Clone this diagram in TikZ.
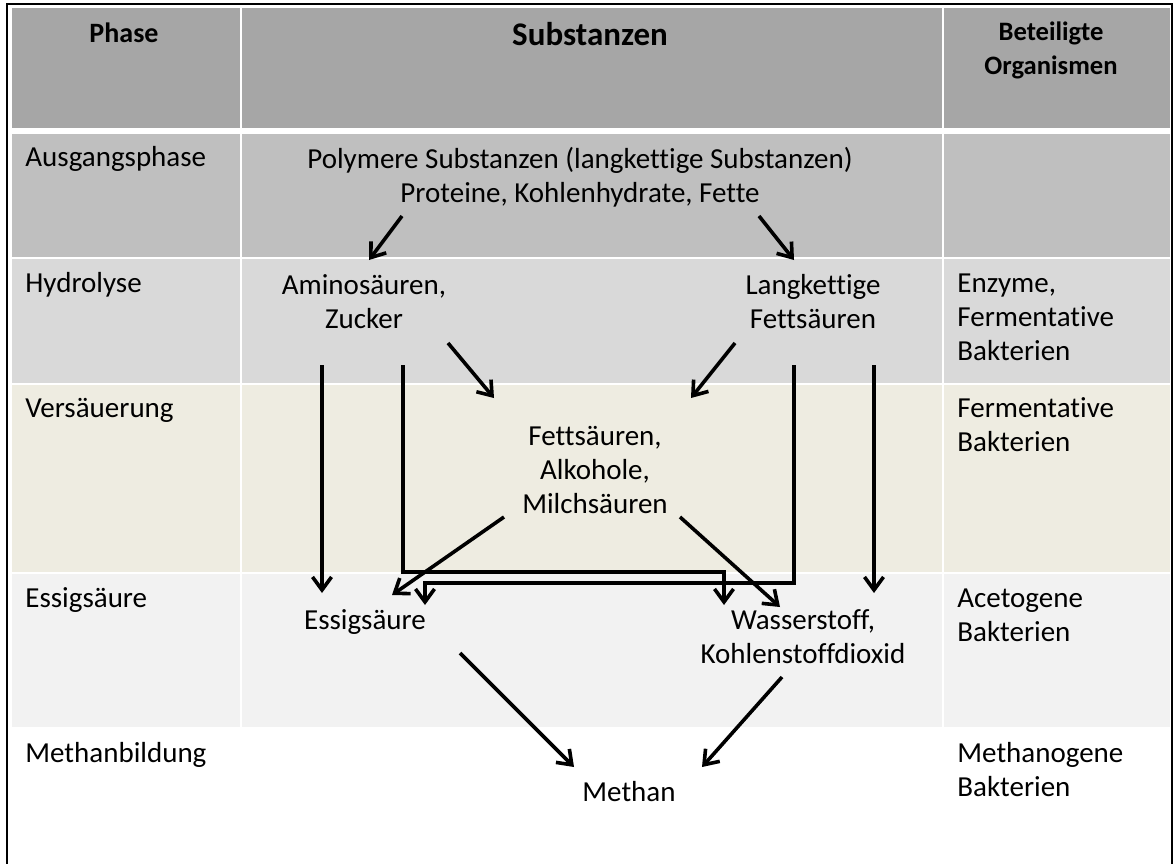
\documentclass[tikz,border=0pt]{standalone}
\usepackage{fontspec}
\setmainfont{Carlito}[Ligatures={NoCommon}]
\usetikzlibrary{arrows.meta, calc}

\definecolor{headgray}{HTML}{A6A6A6}
\definecolor{startgray}{HTML}{BFBFBF}
\definecolor{hydrogray}{HTML}{D9D9D9}
\definecolor{acidbeige}{HTML}{EEECE1}
\definecolor{essiggray}{HTML}{F2F2F2}

\begin{document}
\begin{tikzpicture}[x=0.5pt, y=-0.5pt,
    txt/.style={inner sep=0pt, font=\fontsize{14.5}{17}\selectfont, align=center, anchor=base},
    lbl/.style={inner sep=0pt, font=\fontsize{14.5}{17}\selectfont, align=left, anchor=base west},
    head/.style={inner sep=0pt, font=\bfseries\fontsize{14}{17}\selectfont, align=center, anchor=base},
    arr/.style={line width=1.8pt, -{Straight Barb[length=6.5pt, width=9.5pt]}}]
      \useasboundingbox (0,0) rectangle (1176,863);

      \fill[headgray] (12,8) rectangle (1170,128);
      \fill[startgray] (12,134) rectangle (1170,257);
      \fill[hydrogray] (12,259) rectangle (1170,383);
      \fill[acidbeige] (12,385) rectangle (1170,572);
      \fill[essiggray] (12,574) rectangle (1170,727);
      \draw[white, line width=1pt] (241,8) -- (241,727);
      \draw[white, line width=1pt] (943,8) -- (943,727);
      \draw[line width=1pt] (7,880) -- (7,4) -- (1172,4) -- (1172,880);

      \node[head] (hphase) at (124,42) {Phase};
      \node[head, font=\bfseries\fontsize{16.5}{19}\selectfont] (hsub) at (590,45) {Substanzen};
      \node[head, font=\bfseries\fontsize{13.3}{17}\selectfont] (horg) at (1051,74) {Beteiligte\\Organismen};

      \node[lbl] (p1) at (25,166) {Ausgangsphase};
      \node[lbl] (p2) at (25,292) {Hydrolyse};
      \node[lbl] (p3) at (25,417) {Versäuerung};
      \node[lbl] (p4) at (25,607) {Essigsäure};
      \node[lbl] (p5) at (25,762) {Methanbildung};

      \node[lbl] (o2) at (957,360) {Enzyme,\\Fermentative\\Bakterien};
      \node[lbl] (o3) at (957,451) {Fermentative\\Bakterien};
      \node[lbl] (o4) at (957,641) {Acetogene\\Bakterien};
      \node[lbl] (o5) at (957,796) {Methanogene\\Bakterien};

      \node[txt] (poly) at (580,202) {Polymere Substanzen (langkettige Substanzen)\\Proteine, Kohlenhydrate, Fette};
      \node[txt] (amino) at (364,328) {Aminosäuren,\\Zucker};
      \node[txt] (langk) at (813,328) {Langkettige\\Fettsäuren};
      \node[txt] (fett) at (595,513) {Fettsäuren,\\Alkohole,\\Milchsäuren};
      \node[txt] (essig) at (365,629) {Essigsäure};
      \node[txt] (wasser) at (803,663) {Wasserstoff,\\Kohlenstoffdioxid};
      \node[txt] (methan) at (629,801) {Methan};

      \draw[arr] ($(poly.base)+(-178,14)$) -- ($(amino.base)+(5,-68)$);
      \draw[arr] ($(poly.base)+(179,14)$) -- ($(langk.base)+(-19,-68)$);
      \draw[arr] ($(amino.base)+(84,15)$) -- ($(fett.base)+(-101,-115)$);
      \draw[arr] ($(langk.base)+(-78,15)$) -- ($(fett.base)+(96,-115)$);
      \draw[arr] ($(amino.base)+(-42,37)$) -- ($(essig.base)+(-43,-36)$);
      \draw[arr] ($(amino.base)+(39,37)$) -- ++(0,207) -| ($(wasser.base)+(-79,-58)$);
      \draw[arr] ($(langk.base)+(-19,37)$) -- ++(0,218) -| ($(essig.base)+(60,-24)$);
      \draw[arr] ($(langk.base)+(61,37)$) -- ($(wasser.base)+(71,-70)$);
      \draw[arr] ($(fett.base)+(-91,4)$) -- ($(essig.base)+(27,-34)$);
      \draw[arr] ($(fett.base)+(85,4)$) -- ($(wasser.base)+(-23,-56)$);
      \draw[arr] ($(essig.base)+(95,24)$) -- ($(methan.base)+(-55,-34)$);
      \draw[arr] ($(wasser.base)+(-21,14)$) -- ($(methan.base)+(73,-34)$);
    \end{tikzpicture}
\end{document}
